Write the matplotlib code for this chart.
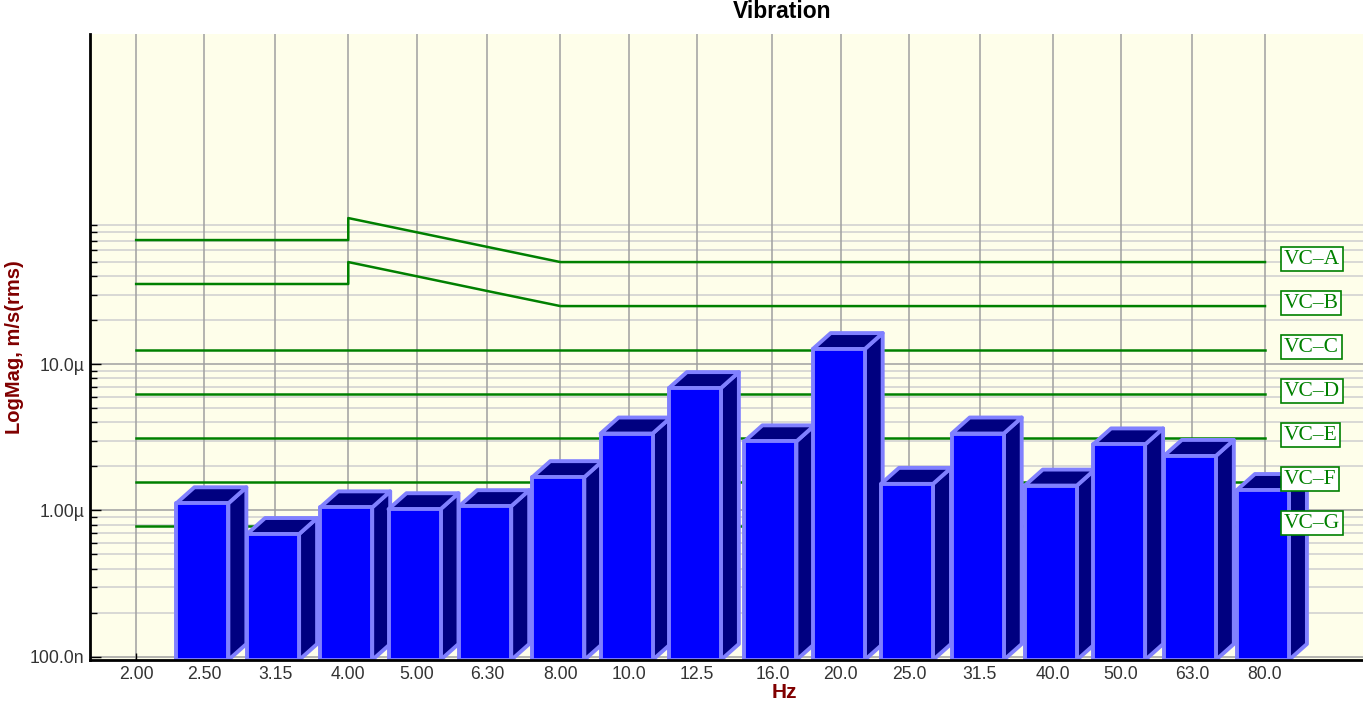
import numpy as np
import matplotlib
matplotlib.use("Agg")
from matplotlib import pyplot as plt
from matplotlib.patches import Polygon
from matplotlib.ticker import NullLocator, NullFormatter

# third-octave band centres on the x axis
freqs = [2.0, 2.5, 3.15, 4.0, 5.0, 6.3, 8.0, 10.0, 12.5, 16.0, 20.0,
         25.0, 31.5, 40.0, 50.0, 63.0, 80.0]
freq_labels = ["2.00", "2.50", "3.15", "4.00", "5.00", "6.30", "8.00", "10.0",
               "12.5", "16.0", "20.0", "25.0", "31.5", "40.0", "50.0", "63.0", "80.0"]

# measured vibration per band (m/s rms), no bar at 2.00
bar_freqs = freqs[1:]
bar_vals = [1.12e-6, 0.69e-6, 1.05e-6, 1.02e-6, 1.07e-6, 1.69e-6, 3.36e-6,
            6.87e-6, 2.97e-6, 12.7e-6, 1.52e-6, 3.36e-6, 1.48e-6, 2.83e-6,
            2.36e-6, 1.38e-6]

# VC criterion curves
vca_f = [2.0, 4.0, 4.0, 5.0, 6.3, 8.0, 80.0]
vca_v = [70.7e-6, 70.7e-6, 100e-6, 80e-6, 63.5e-6, 50e-6, 50e-6]
vcb_f = [2.0, 4.0, 4.0, 5.0, 6.3, 8.0, 80.0]
vcb_v = [35.4e-6, 35.4e-6, 50e-6, 40e-6, 31.7e-6, 25e-6, 25e-6]
flat_names = ["VC\u2013C", "VC\u2013D", "VC\u2013E", "VC\u2013F", "VC\u2013G"]
flat_levels = [12.5e-6, 6.25e-6, 3.12e-6, 1.56e-6, 0.78e-6]

ytick_vals = [1e-7, 1e-6, 1e-5]
ytick_labels = ["100.0n", "1.00\u00b5", "10.0\u00b5"]

W, H = 1363, 706
fig = plt.figure(figsize=(W / 100, H / 100), dpi=100)
fig.patch.set_facecolor("white")
ax = fig.add_axes([90 / W, (H - 660) / H, 1 - 90 / W, (660 - 34) / H])
ax.set_facecolor("#FEFEEA")
ax.set_xscale("log")
ax.set_yscale("log")
ax.set_xlim(1.72, 110.2)
ax.set_ylim(9.49e-8, 1.815e-3)

# grid
for f in freqs:
    ax.axvline(f, color="#A0A0A0", lw=1.1, zorder=1)
minor_vals = []
for e in [-7, -6, -5]:
    for k in range(2, 10):
        minor_vals.append(k * 10.0 ** e)
for v in minor_vals:
    ax.axhline(v, color="#CFCFCF", lw=1.1, zorder=0.9)
for v in ytick_vals:
    ax.axhline(v, color="#A0A0A0", lw=1.1, zorder=0.95)

# criterion lines
green = "#008000"
ax.plot(vca_f, vca_v, color=green, lw=1.8, zorder=2)
ax.plot(vcb_f, vcb_v, color=green, lw=1.8, zorder=2)
for lv in flat_levels:
    ax.plot([2.0, 80.0], [lv, lv], color=green, lw=1.8, zorder=2)

# 3d-looking bars
lo = 10 ** 0.0398     # front left edge (log factor)
hi = 10 ** 0.0340     # front right edge
kx = 10 ** 0.0255     # depth to the right
ky = 10 ** 0.1094     # depth upward
base = 9.49e-8
edge = "#8080FF"
for i, (f, v) in enumerate(zip(bar_freqs, bar_vals)):
    x0, x1 = f / lo, f * hi
    z = 3 + i * 0.01
    side = Polygon([(x1, base), (x1, v), (x1 * kx, v * ky), (x1 * kx, base * ky)],
                   closed=True, fc="#000080", ec=edge, lw=2.8, joinstyle="round", zorder=z)
    top = Polygon([(x0, v), (x1, v), (x1 * kx, v * ky), (x0 * kx, v * ky)],
                  closed=True, fc="#000080", ec=edge, lw=2.8, joinstyle="round", zorder=z)
    front = Polygon([(x0, base), (x1, base), (x1, v), (x0, v)],
                    closed=True, fc="#0000FF", ec=edge, lw=2.8, joinstyle="round", zorder=z)
    ax.add_patch(side)
    ax.add_patch(top)
    ax.add_patch(front)

# curve labels
names = ["VC\u2013A", "VC\u2013B"] + flat_names
levels = [vca_v[-1], vcb_v[-1]] + flat_levels
for name, lv in zip(names, levels):
    ax.annotate(name, xy=(80.0, lv), xytext=(19, 3), textcoords="offset pixels",
                ha="left", va="center", fontsize=15.5, color=green,
                family="Liberation Serif", zorder=10,
                bbox=dict(boxstyle="square,pad=0.12", fc="white", ec=green, lw=1.2))

# axes styling
ax.set_xticks(freqs)
ax.set_xticklabels(freq_labels)
ax.xaxis.set_minor_locator(NullLocator())
ax.xaxis.set_minor_formatter(NullFormatter())
ax.set_yticks(ytick_vals)
ax.set_yticklabels(ytick_labels)
ax.yaxis.set_minor_locator(plt.FixedLocator(minor_vals))
ax.yaxis.set_minor_formatter(NullFormatter())
ax.tick_params(axis="both", which="major", direction="in", length=8, width=1,
               color="black", labelsize=12.7, labelcolor="#333333", pad=4)
ax.tick_params(axis="both", which="minor", direction="in", length=5, width=1, color="black")
ax.tick_params(axis="x", which="major", length=5)
for lab in ax.get_xticklabels() + ax.get_yticklabels():
    lab.set_family("Liberation Sans")
for s in ["top", "right"]:
    ax.spines[s].set_visible(False)
for s in ["left", "bottom"]:
    ax.spines[s].set_color("black")
    ax.spines[s].set_linewidth(2)
    ax.spines[s].set_zorder(20)

fig.text(782 / W, 1 - 12 / H, "Vibration", ha="center", va="center",
         fontsize=16.5, fontweight="bold", family="Liberation Sans", color="black")
fig.text(784 / W, 1 - 693 / H, "Hz", ha="center", va="center",
         fontsize=15, fontweight="bold", family="Liberation Sans", color="#800000")
fig.text(15 / W, 1 - 347 / H, "LogMag, m/s(rms)", ha="center", va="center",
         rotation=90, fontsize=14.5, fontweight="bold", family="Liberation Sans",
         color="#800000")

fig.savefig("out.png", dpi=100)
